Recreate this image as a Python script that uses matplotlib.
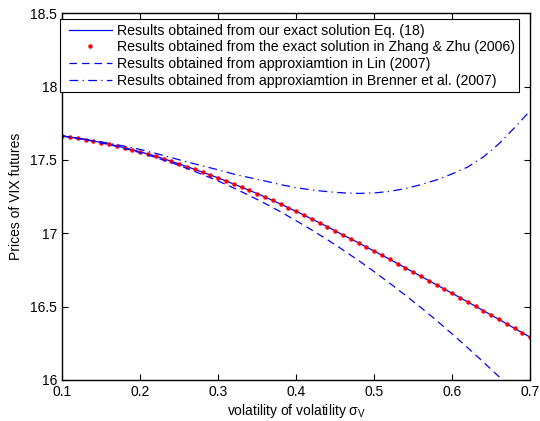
import numpy as np
import matplotlib
matplotlib.use("Agg")
import matplotlib.pyplot as plt
from matplotlib.lines import Line2D
from matplotlib.legend_handler import HandlerLine2D

plt.rcParams['font.family'] = ['Liberation Sans', 'DejaVu Sans']
plt.rcParams['mathtext.fontset'] = 'custom'
plt.rcParams['mathtext.rm'] = 'Liberation Sans'
plt.rcParams['mathtext.it'] = 'Liberation Sans'

# volatility of volatility, step 0.01
sigma = [0.10, 0.11, 0.12, 0.13, 0.14, 0.15, 0.16, 0.17, 0.18, 0.19,
         0.20, 0.21, 0.22, 0.23, 0.24, 0.25, 0.26, 0.27, 0.28, 0.29,
         0.30, 0.31, 0.32, 0.33, 0.34, 0.35, 0.36, 0.37, 0.38, 0.39,
         0.40, 0.41, 0.42, 0.43, 0.44, 0.45, 0.46, 0.47, 0.48, 0.49,
         0.50, 0.51, 0.52, 0.53, 0.54, 0.55, 0.56, 0.57, 0.58, 0.59,
         0.60, 0.61, 0.62, 0.63, 0.64, 0.65, 0.66, 0.67, 0.68, 0.69, 0.70]

# our exact solution Eq. (18)
exacto = [17.664, 17.655, 17.648, 17.639, 17.630, 17.619, 17.608, 17.596, 17.583, 17.570,
          17.556, 17.541, 17.526, 17.509, 17.491, 17.473, 17.455, 17.436, 17.417, 17.398,
          17.378, 17.357, 17.336, 17.315, 17.293, 17.271, 17.248, 17.224, 17.200, 17.175,
          17.150, 17.124, 17.098, 17.072, 17.045, 17.017, 16.989, 16.962, 16.935, 16.907,
          16.879, 16.851, 16.823, 16.794, 16.765, 16.736, 16.707, 16.678, 16.649, 16.620,
          16.591, 16.562, 16.532, 16.503, 16.473, 16.443, 16.413, 16.383, 16.352, 16.322, 16.292]

# Zhang & Zhu (2006), same values
zhang_zhu = list(exacto)

# aproximaciones, step 0.02
sigma2 = [0.10, 0.12, 0.14, 0.16, 0.18, 0.20, 0.22, 0.24, 0.26, 0.28,
          0.30, 0.32, 0.34, 0.36, 0.38, 0.40, 0.42, 0.44, 0.46, 0.48,
          0.50, 0.52, 0.54, 0.56, 0.58, 0.60, 0.62, 0.64, 0.66, 0.68, 0.70]

lin = [17.665, 17.648, 17.628, 17.605, 17.579, 17.550, 17.517, 17.482, 17.443, 17.401,
       17.357, 17.309, 17.258, 17.204, 17.147, 17.086, 17.023, 16.957, 16.887, 16.815,
       16.739, 16.660, 16.578, 16.494, 16.406, 16.314, 16.220, 16.123, 16.023, 15.919, 15.813]

brenner = [17.664, 17.649, 17.632, 17.614, 17.594, 17.572, 17.545, 17.516, 17.487, 17.460,
           17.433, 17.404, 17.380, 17.357, 17.332, 17.311, 17.296, 17.284, 17.276, 17.272,
           17.275, 17.286, 17.305, 17.332, 17.364, 17.405, 17.452, 17.520, 17.610, 17.720, 17.835]

fig = plt.figure(figsize=(5.4, 4.21), dpi=100)
ax = fig.add_axes([0.115, 0.0974, 0.8667, 0.871])

ax.plot(sigma, exacto, color="b", lw=0.9,
        label="Results obtained from our exact solution Eq. (18)")
ax.plot(sigma, zhang_zhu, color="r", ls="none", marker="o", ms=2.2,
        label="Results obtained from the exact solution in Zhang & Zhu (2006)")
ax.plot(sigma2, lin, color="b", lw=0.9, ls=(0, (6, 4)),
        label="Results obtained from approxiamtion in Lin (2007)")
ax.plot(sigma2, brenner, color="b", lw=0.9, ls=(0, (7, 3.5, 1, 3.5)),
        label="Results obtained from approxiamtion in Brenner et al. (2007)")

ax.set_xlim(0.1, 0.7)
ax.set_ylim(16, 18.5)
ax.set_xticks([0.1, 0.2, 0.3, 0.4, 0.5, 0.6, 0.7])
ax.set_xticklabels(["0.1", "0.2", "0.3", "0.4", "0.5", "0.6", "0.7"])
ax.set_yticks([16, 16.5, 17, 17.5, 18, 18.5])
ax.set_yticklabels(["16", "16.5", "17", "17.5", "18", "18.5"])
ax.tick_params(direction="in", top=True, right=True, labelsize=10, length=4, width=0.8)
for s in ax.spines.values():
    s.set_linewidth(1.0)

ax.set_xlabel(r"volatility of volatility $\sigma_V$", fontsize=10, labelpad=2)
ax.set_ylabel("Prices of VIX futures", fontsize=10, labelpad=5)

leg = ax.legend(loc="upper left", bbox_to_anchor=(-0.0043, 0.9836), borderaxespad=0,
                fontsize=10.2, frameon=True, fancybox=False, framealpha=1,
                edgecolor="black", handlelength=3.35, handletextpad=0.35,
                labelspacing=0.2, borderpad=0.3,
                handler_map={Line2D: HandlerLine2D(xpad=0.32)})
leg.get_frame().set_linewidth(0.8)

fig.savefig("out.png", dpi=100)
